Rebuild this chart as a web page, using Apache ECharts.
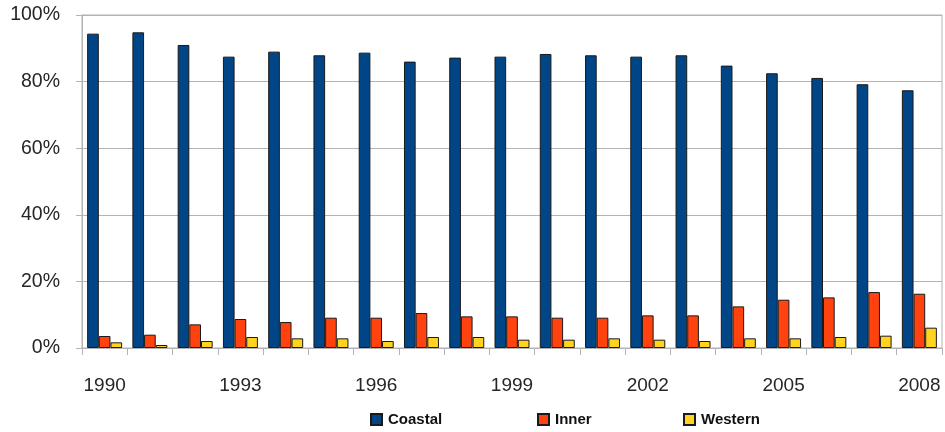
<!DOCTYPE html>
<html>
<head>
<meta charset="utf-8">
<script src="https://cdn.jsdelivr.net/npm/echarts@6/dist/echarts.min.js"></script>
<style>
  html, body { margin: 0; padding: 0; background: #ffffff; }
  #chart { width: 945px; height: 432px; }
</style>
</head>
<body>
<div id="chart"></div>
<script>
// Regional shares (%) by year
const years = ['1990','1991','1992','1993','1994','1995','1996','1997','1998','1999',
               '2000','2001','2002','2003','2004','2005','2006','2007','2008'];
const coastal = [94.4, 94.8, 91.0, 87.5, 89.0, 87.9, 88.7, 86.0, 87.2, 87.5,
                 88.3, 87.9, 87.5, 87.9, 84.8, 82.5, 81.1, 79.2, 77.4];
const inner   = [3.6, 4.0, 7.1, 8.7, 7.8, 9.1, 9.1, 10.5, 9.5, 9.5,
                 9.1, 9.1, 9.8, 9.8, 12.5, 14.5, 15.2, 16.8, 16.3];
const western = [1.7, 0.9, 2.1, 3.3, 2.9, 2.9, 2.1, 3.3, 3.3, 2.5,
                 2.5, 2.9, 2.5, 2.1, 2.9, 2.9, 3.3, 3.7, 6.1];
const yTicks = [0, 20, 40, 60, 80, 100];

const gridColor = '#b3b3b3';
const textColor = '#262626';
const font = 'Liberation Sans, Arial, sans-serif';

const chart = echarts.init(document.getElementById('chart'), null, { renderer: 'canvas' });

function legendFor(name, left) {
  return {
    data: [name],
    left: left,
    top: 407,
    icon: 'rect',
    itemWidth: 11,
    itemHeight: 11,
    itemGap: 0,
    textStyle: { fontFamily: font, fontSize: 15, fontWeight: 'bold', color: '#111', padding: [0, 0, 0, 1] },
    selectedMode: false
  };
}

function barSeries(name, data, color) {
  return {
    name: name,
    type: 'bar',
    data: data,
    barGap: '0%',
    barCategoryGap: '22.7%',
    itemStyle: { color: color, borderColor: '#1a1a1a', borderWidth: 1 },
    emphasis: { disabled: true },
    animation: false
  };
}

chart.setOption({
  animation: false,
  grid: {
    left: 82, right: 3, top: 15, bottom: 84,
    show: true, borderColor: gridColor, borderWidth: 1, backgroundColor: 'transparent'
  },
  legend: [
    legendFor('Coastal', 365),
    legendFor('Inner', 532),
    legendFor('Western', 678)
  ],
  xAxis: {
    type: 'category',
    data: years,
    axisLine: { show: true, lineStyle: { color: gridColor, width: 1 } },
    axisTick: { show: true, interval: 0, alignWithLabel: false, length: 7, lineStyle: { color: gridColor } },
    axisLabel: {
      interval: 2,
      margin: 28,
      color: textColor,
      fontFamily: font,
      fontSize: 19
    },
    splitLine: { show: false }
  },
  yAxis: {
    type: 'value',
    min: yTicks[0],
    max: yTicks[yTicks.length - 1],
    interval: yTicks[1] - yTicks[0],
    axisLine: { show: true, lineStyle: { color: gridColor, width: 1 } },
    axisTick: { show: true, length: 6, lineStyle: { color: gridColor } },
    axisLabel: {
      margin: 22,
      color: textColor,
      fontFamily: font,
      fontSize: 19.5,
      formatter: v => v + '%'
    },
    splitLine: { show: true, lineStyle: { color: gridColor, width: 1 } }
  },
  series: [
    barSeries('Coastal', coastal, '#004586'),
    barSeries('Inner', inner, '#ff420e'),
    barSeries('Western', western, '#ffd320')
  ]
});
</script>
</body>
</html>
